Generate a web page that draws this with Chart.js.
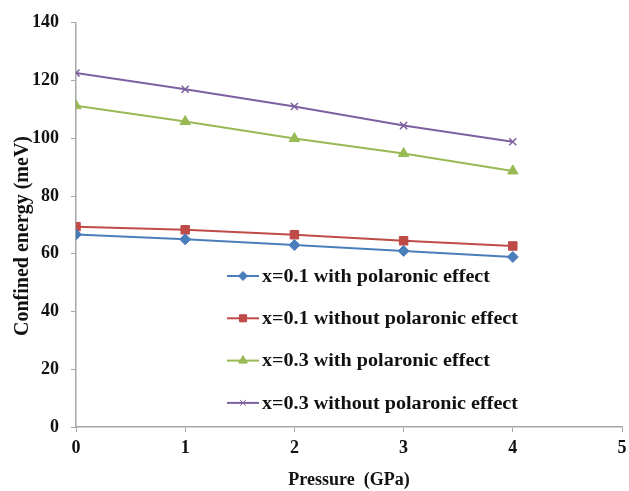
<!DOCTYPE html>
<html>
<head>
<meta charset="utf-8">
<script src="https://cdn.jsdelivr.net/npm/chart.js@4"></script>
<style>
  html, body { margin: 0; padding: 0; background: #fff; }
  #wrap { width: 629px; height: 491px; }
</style>
</head>
<body>
<div id="wrap"><canvas id="grafico"></canvas></div>
<script>
const pressure = [0, 1, 2, 3, 4];
const seriesNames = [
  'x=0.1 with polaronic effect',
  'x=0.1 without polaronic effect',
  'x=0.3 with polaronic effect',
  'x=0.3 without polaronic effect'
];
const x01With = [66.7, 65.0, 63.0, 61.0, 58.9];
const x01Without = [69.4, 68.3, 66.6, 64.5, 62.7];
const x03With = [111.3, 105.8, 99.9, 94.7, 88.7];
const x03Without = [122.6, 117.0, 111.0, 104.4, 98.8];
const xTicks = [0, 1, 2, 3, 4, 5];
const yTicks = [0, 20, 40, 60, 80, 100, 120, 140];
const yTitle = 'Confined energy (meV)';

const serif = '"Liberation Serif", "Times New Roman", serif';
const colores = ['#4a7ebb', '#be4b48', '#98b954', '#7d60a0'];
const estilos = ['rectRot', 'rect', 'triangle', 'crossRot'];
const radios = [5.5, 6, 6, 5];
const valores = [x01With, x01Without, x03With, x03Without];

function serie(i) {
  return {
    label: seriesNames[i],
    data: pressure.map((p, k) => ({ x: p, y: valores[i][k] })),
    borderColor: colores[i],
    backgroundColor: colores[i],
    pointBackgroundColor: colores[i],
    pointBorderColor: colores[i],
    pointStyle: estilos[i],
    pointRadius: radios[i],
    pointBorderWidth: i === 3 ? 1.5 : 1,
    borderWidth: 2,
    tension: 0
  };
}

// legend inside the plot + y title, drawn by hand to sit where the original has them
const leyendaInterna = {
  id: 'leyendaInterna',
  afterDraw(chart) {
    const ctx = chart.ctx;
    ctx.save();
    ctx.font = 'bold 18px ' + serif;
    ctx.textBaseline = 'middle';
    const ancho = ctx.measureText(seriesNames[0]).width;
    const escala = 228 / ancho;
    chart.data.datasets.forEach(function(ds, i) {
      const y = 276 + i * 42.3;
      const x0 = 227;
      ctx.strokeStyle = ds.borderColor;
      ctx.lineWidth = 2;
      ctx.beginPath();
      ctx.moveTo(x0, y);
      ctx.lineTo(x0 + 32, y);
      ctx.stroke();
      ctx.fillStyle = ds.backgroundColor;
      ctx.lineWidth = 1;
      Chart.helpers.drawPoint(ctx, { pointStyle: ds.pointStyle, radius: ds.pointRadius - 1, borderWidth: 1 }, x0 + 16, y);
      ctx.save();
      ctx.translate(x0 + 35, y + 1);
      ctx.scale(escala, 1);
      ctx.fillStyle = '#111';
      ctx.fillText(ds.label, 0, 0);
      ctx.restore();
    });
    // y axis title
    ctx.save();
    ctx.translate(23, 236);
    ctx.rotate(-Math.PI / 2);
    ctx.font = 'bold 20px ' + serif;
    ctx.textAlign = 'center';
    ctx.fillStyle = '#111';
    ctx.fillText(yTitle, 0, 0);
    ctx.restore();
    ctx.restore();
  }
};

const ctx = document.getElementById('grafico').getContext('2d');
const grafico = new Chart(ctx, {
  type: 'line',
  data: { datasets: [0, 1, 2, 3].map(serie) },
  options: {
    responsive: true,
    maintainAspectRatio: false,
    animation: false,
    layout: { padding: { top: 22, right: 5, left: 0, bottom: 0 } },
    plugins: { legend: { display: false }, tooltip: { enabled: false } },
    scales: {
      x: {
        type: 'linear',
        min: 0,
        max: 5,
        afterBuildTicks: function(scale) { scale.ticks = xTicks.map(v => ({ value: v })); },
        afterFit: function(scale) { scale.height = 64; scale.paddingRight = 0; },
        border: { color: '#a6a6a6', width: 1.5 },
        grid: { drawOnChartArea: false, color: '#a6a6a6', tickLength: 5 },
        ticks: { color: '#111', padding: 6, font: { family: serif, size: 18, weight: 'bold' } },
        title: {
          display: true,
          text: 'Pressure  (GPa)',
          color: '#111',
          padding: { top: 6, bottom: 0 },
          font: { family: serif, size: 18, weight: 'bold' }
        }
      },
      y: {
        min: 0,
        max: 140,
        afterBuildTicks: function(scale) { scale.ticks = yTicks.map(v => ({ value: v })); },
        afterFit: function(scale) { scale.width = 76; },
        border: { color: '#a6a6a6', width: 1.5 },
        grid: { drawOnChartArea: false, color: '#a6a6a6', tickLength: 5 },
        ticks: { color: '#111', padding: 12, font: { family: serif, size: 18, weight: 'bold' } }
      }
    }
  },
  plugins: [leyendaInterna]
});
</script>
</body>
</html>
